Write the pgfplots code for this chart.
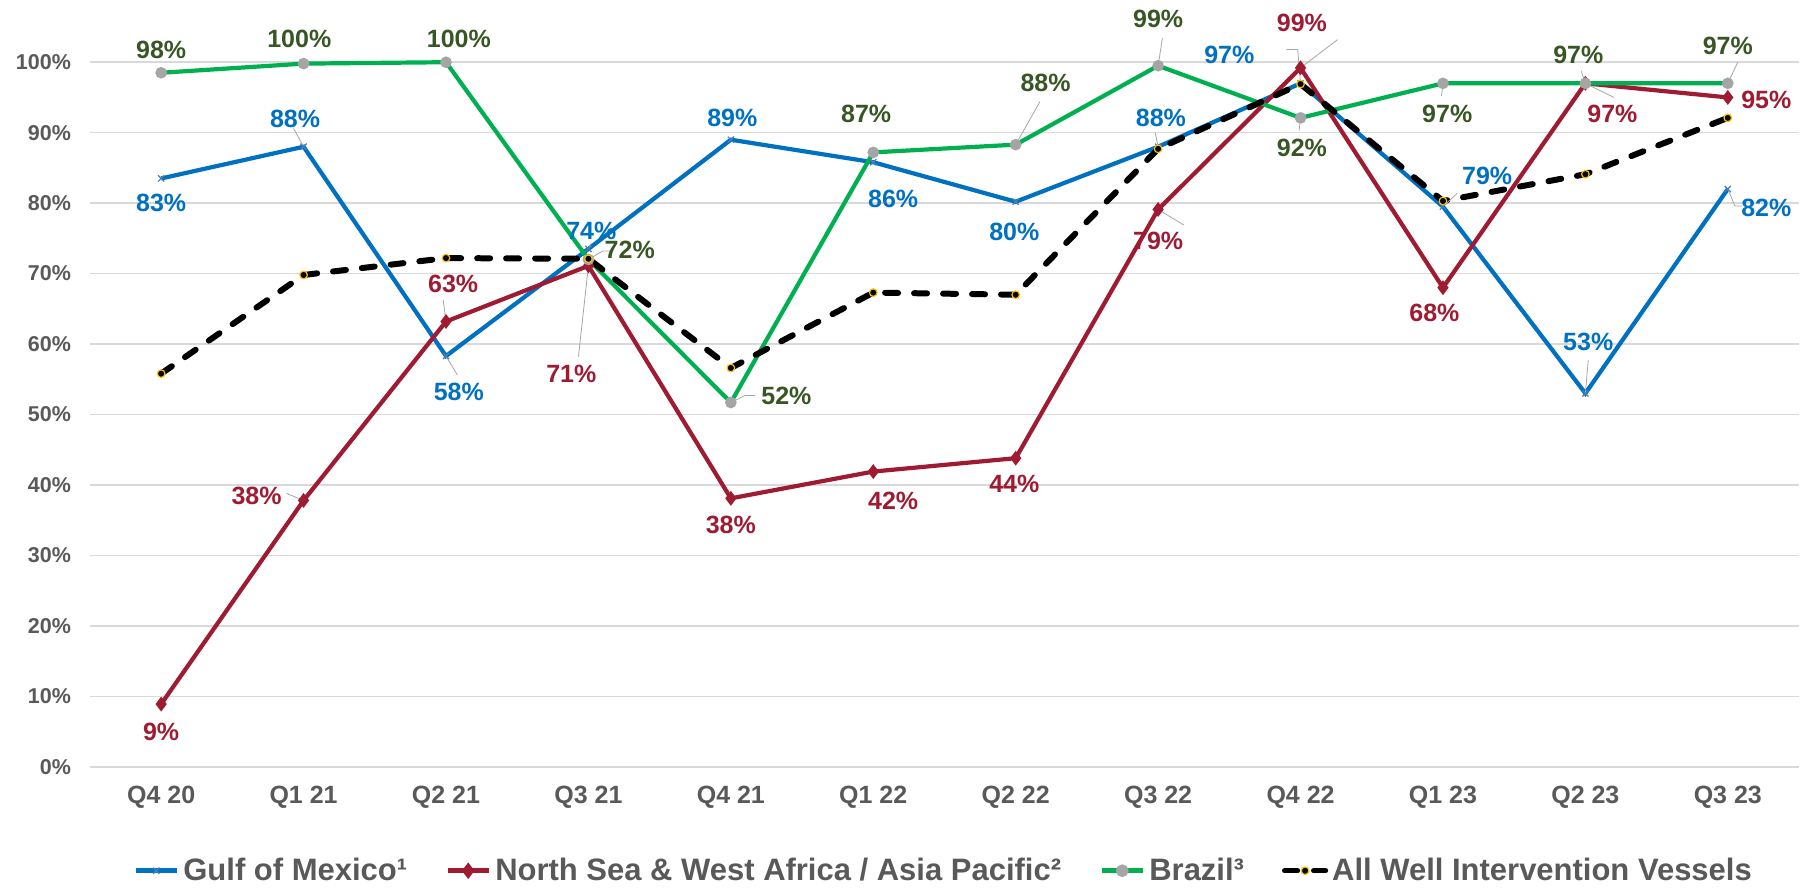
\documentclass[border=0pt]{standalone}
\usepackage{fontspec}
\setmainfont{Liberation Sans}
\usepackage{pgfplots}
\pgfplotsset{compat=1.18}

\definecolor{gom}{HTML}{0070C0}
\definecolor{gommk}{HTML}{4A7EBB}
\definecolor{nsea}{HTML}{9E1B32}
\definecolor{braz}{HTML}{00B050}
\definecolor{brazlbl}{HTML}{375623}
\definecolor{brazmk}{HTML}{A5A5A5}
\definecolor{allmk}{HTML}{FFC000}
\definecolor{txtgray}{HTML}{595959}
\definecolor{gridgray}{HTML}{D9D9D9}
\definecolor{leader}{HTML}{A6A6A6}

\tikzset{
    lblB/.style={font=\fontsize{12.5}{14}\selectfont\bfseries, text=gom},
    lblR/.style={font=\fontsize{12.5}{14}\selectfont\bfseries, text=nsea},
    lblG/.style={font=\fontsize{12.5}{14}\selectfont\bfseries, text=brazlbl},
    ldr/.style={draw=leader, line width=0.4pt},
}

\begin{document}
\begin{tikzpicture}
\begin{axis}[
    name=ax,
    scale only axis,
    width=855pt, height=383.5pt,
    xmin=-0.5, xmax=11.5,
    ymin=0, ymax=108.8,
    clip=false,
    axis line style={draw=none},
    major tick length=0pt,
    xtick={0,...,11},
    xticklabels={Q4 20,Q1 21,Q2 21,Q3 21,Q4 21,Q1 22,Q2 22,Q3 22,Q4 22,Q1 23,Q2 23,Q3 23},
    ytick={0,10,...,100},
    yticklabels={0\%,10\%,20\%,30\%,40\%,50\%,60\%,70\%,80\%,90\%,100\%},
    ymajorgrids,
    grid style={gridgray, line width=0.8pt},
    xticklabel style={font=\fontsize{12.5}{14}\selectfont\bfseries, text=txtgray, yshift=-6pt},
    yticklabel style={font=\fontsize{10.75}{13}\selectfont\bfseries, text=txtgray, xshift=-6pt},
    legend style={draw=none, fill=none, at={(0.5,-0.1356)}, anchor=center,
        font=\fontsize{15.5}{18}\selectfont\bfseries, text=txtgray,
        /tikz/every even column/.append style={column sep=17pt}},
    legend columns=-1,
    legend image code/.code={\draw[#1, line width=2.6pt, mark repeat=2, mark phase=2]
        plot coordinates {(0pt,0pt) (10.25pt,0pt) (20.5pt,0pt)};},
]

% Gulf of Mexico
\addplot[gom, line width=2.1pt, mark=x, mark size=2.2pt,
    mark options={draw=gommk, line width=0.6pt}] coordinates {
    (0,83.5) (1,88) (2,58.3) (3,73.5) (4,89) (5,85.8)
    (6,80.2) (7,88) (8,97) (9,79.5) (10,53) (11,82)
};
\addlegendentry{Gulf of Mexico¹}

% North Sea & West Africa / Asia Pacific
\addplot[nsea, line width=2.1pt, mark=diamond*, mark size=2pt,
    mark options={fill=nsea, draw=nsea}] coordinates {
    (0,8.9) (1,37.8) (2,63.2) (3,71.1) (4,38.1) (5,41.9)
    (6,43.8) (7,79.1) (8,99.2) (9,68) (10,97) (11,95)
};
\addlegendentry{North Sea \& West Africa / Asia Pacific²}

% Brazil
\addplot[braz, line width=2.1pt, mark=*, mark size=1.8pt,
    mark options={fill=brazmk, draw=brazmk}] coordinates {
    (0,98.5) (1,99.8) (2,100) (3,72) (4,51.7) (5,87.2)
    (6,88.3) (7,99.5) (8,92.1) (9,97) (10,97) (11,97)
};
\addlegendentry{Brazil³}

% All Well Intervention Vessels
\addplot[black, line width=3pt, line cap=round, dash pattern=on 6.5pt off 8pt,
    mark=*, mark size=1.9pt,
    mark options={solid, fill=black, draw=allmk, line width=0.6pt}] coordinates {
    (0,55.8) (1,69.8) (2,72.2) (3,72.1) (4,56.6) (5,67.3)
    (6,67) (7,87.7) (8,96.9) (9,80.3) (10,84.1) (11,92.1)
};
\addlegendentry{All Well Intervention Vessels}

% leader lines
\draw[ldr] (axis cs:1,88) -- (axis cs:0.93,90.6);
\draw[ldr] (axis cs:2,58.3) -- (axis cs:2.08,55.6);
\draw[ldr] (axis cs:3,73.5) -- (axis cs:3.02,74.3);
\draw[ldr] (axis cs:2,63.2) -- (axis cs:1.98,66.3);
\draw[ldr] (axis cs:3,71.1) -- (axis cs:2.93,58.2);
\draw[ldr] (axis cs:3,72) -- (axis cs:3.1,73.2) -- (axis cs:3.17,73.2);
\draw[ldr] (axis cs:4,51.7) -- (axis cs:4.1,52.7) -- (axis cs:4.17,52.7);
\draw[ldr] (axis cs:6,88.3) -- (axis cs:6.17,94.4);
\draw[ldr] (axis cs:7,79.1) -- (axis cs:7.18,76.9);
\draw[ldr] (axis cs:7,99.5) -- (axis cs:7.03,103.4);
\draw[ldr] (axis cs:7,88) -- (axis cs:6.98,90);
\draw[ldr] (axis cs:8,97) -- (axis cs:7.98,101.8) -- (axis cs:7.9,101.8);
\draw[ldr] (axis cs:8,99.2) -- (axis cs:8.26,103.2);
\draw[ldr] (axis cs:8,92.1) -- (axis cs:7.99,90.3);
\draw[ldr] (axis cs:9,79.5) -- (axis cs:9.1,81.4);
\draw[ldr] (axis cs:9,97) -- (axis cs:8.99,95.2);
\draw[ldr] (axis cs:10,97) -- (axis cs:10.2,95);
\draw[ldr] (axis cs:10,97) -- (axis cs:9.97,98.8);
\draw[ldr] (axis cs:10,53) -- (axis cs:10.02,57.7);
\draw[ldr] (axis cs:11,82) -- (axis cs:11.05,79.6) -- (axis cs:11.1,79.6);
\draw[ldr] (axis cs:11,97) -- (axis cs:11.07,100);
\draw[ldr] (axis cs:1,37.8) -- (axis cs:0.88,38.8);

% Gulf of Mexico labels
\node[lblB] at (axis cs:0,80) {83\%};
\node[lblB] at (axis cs:0.94,92) {88\%};
\node[lblB] at (axis cs:2.09,53.2) {58\%};
\node[lblB] at (axis cs:3.02,76) {74\%};
\node[lblB] at (axis cs:4.01,92.1) {89\%};
\node[lblB] at (axis cs:5.14,80.6) {86\%};
\node[lblB] at (axis cs:5.99,75.9) {80\%};
\node[lblB] at (axis cs:7.02,92.1) {88\%};
\node[lblB] at (axis cs:7.5,101.1) {97\%};
\node[lblB] at (axis cs:9.31,83.9) {79\%};
\node[lblB] at (axis cs:10.02,60.3) {53\%};
\node[lblB] at (axis cs:11.27,79.3) {82\%};

% North Sea labels
\node[lblR] at (axis cs:0,4.9) {9\%};
\node[lblR] at (axis cs:0.67,38.4) {38\%};
\node[lblR] at (axis cs:2.05,68.6) {63\%};
\node[lblR] at (axis cs:2.88,55.8) {71\%};
\node[lblR] at (axis cs:4,34.3) {38\%};
\node[lblR] at (axis cs:5.14,37.8) {42\%};
\node[lblR] at (axis cs:5.99,40.1) {44\%};
\node[lblR] at (axis cs:7,74.7) {79\%};
\node[lblR] at (axis cs:8.01,105.6) {99\%};
\node[lblR] at (axis cs:8.94,64.4) {68\%};
\node[lblR] at (axis cs:10.19,92.6) {97\%};
\node[lblR] at (axis cs:11.27,94.7) {95\%};

% Brazil labels
\node[lblG] at (axis cs:0,101.8) {98\%};
\node[lblG] at (axis cs:0.97,103.3) {100\%};
\node[lblG] at (axis cs:2.09,103.3) {100\%};
\node[lblG] at (axis cs:3.29,73.4) {72\%};
\node[lblG] at (axis cs:4.39,52.7) {52\%};
\node[lblG] at (axis cs:4.95,92.6) {87\%};
\node[lblG] at (axis cs:6.21,97) {88\%};
\node[lblG] at (axis cs:7,106.1) {99\%};
\node[lblG] at (axis cs:8.01,87.8) {92\%};
\node[lblG] at (axis cs:9.03,92.6) {97\%};
\node[lblG] at (axis cs:9.95,101) {97\%};
\node[lblG] at (axis cs:11,102.3) {97\%};
\end{axis}
\path (ax.south west) ++(-45pt,-62pt) (ax.north east) ++(8.5pt,0pt);
\end{tikzpicture}
\end{document}
